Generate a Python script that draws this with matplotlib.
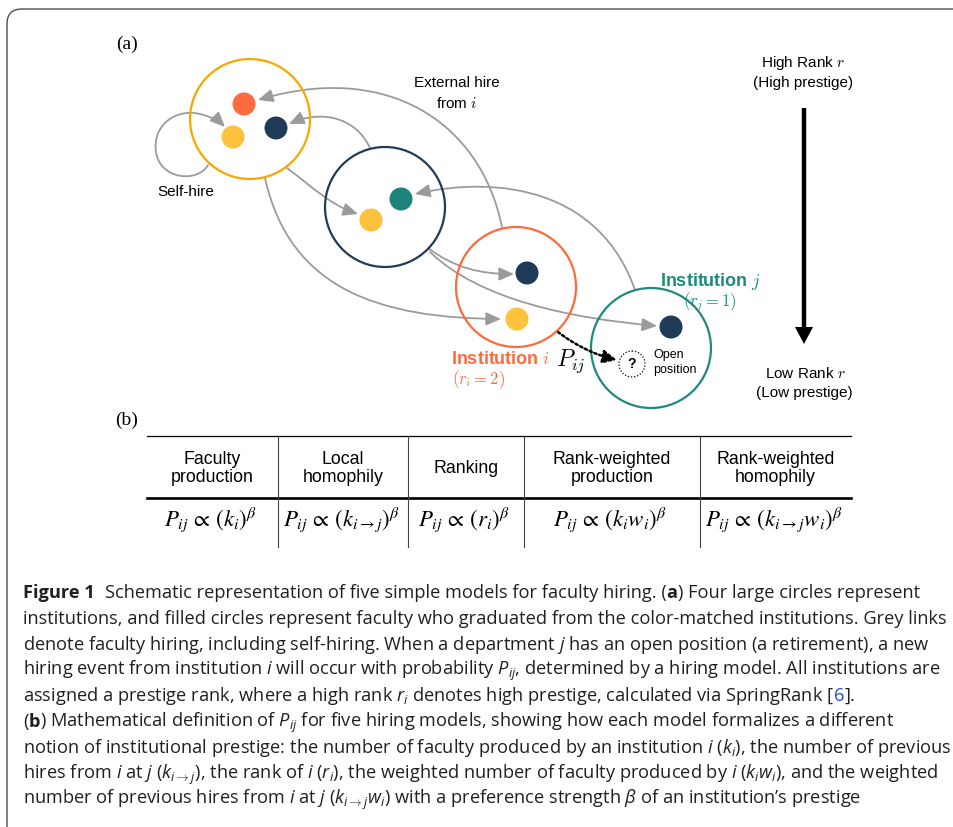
import re
import matplotlib
matplotlib.use("Agg")
import matplotlib.pyplot as plt
from matplotlib import font_manager
from matplotlib.patches import Circle, FancyArrowPatch, PathPatch, Polygon
from matplotlib.path import Path


def has_bold(name):
    regular = bold = False
    for f in font_manager.fontManager.ttflist:
        if f.name == name and f.style == "normal":
            if str(f.weight) in ("700", "bold"):
                bold = True
            elif str(f.weight) in ("400", "normal", "regular", "book"):
                regular = True
    return regular and bold


CAP_FONT = "Liberation Sans"
for cand in ["Liberation Sans Narrow", "Noto Sans", "Open Sans", "Lato", "Roboto"]:
    if has_bold(cand):
        CAP_FONT = cand
        break
SANS = "Liberation Sans"
SERIF = "Liberation Serif"

plt.rcParams["font.family"] = SANS
plt.rcParams["mathtext.fontset"] = "custom"
plt.rcParams["mathtext.rm"] = CAP_FONT
plt.rcParams["mathtext.it"] = CAP_FONT + ":italic"
plt.rcParams["mathtext.bf"] = CAP_FONT + ":bold"

# ---- panel (a): institutions (big rings) ----
inst_x = [250, 385, 516, 651]
inst_y = [119, 207, 287, 348]
inst_col = ["#F6A800", "#1F3B57", "#FF6A3D", "#1E8A7E"]
INST_R = 60

# faculty members (filled dots), coloured by the institution they graduated from
dot_x = [244, 233, 276, 401, 371, 527, 517, 671]
dot_y = [104, 137, 128, 199, 220, 273, 319, 327]
dot_col = ["#FF6B40", "#FFC23F", "#1F3B57", "#1E8479",
           "#FFC23F", "#1F3B57", "#FFC23F", "#1F3B57"]
DOT_R = 11.5

# grey hiring links, cubic bezier control points (start, c1, c2, end, ...)
links = [
    [(208, 165), (198, 183), (160, 180), (156, 152),
     (152, 126), (175, 108), (200, 114),
     (212, 117), (219, 121), (225, 127)],               # self-hire loop
    [(502, 227), (480, 120), (385, 62), (258, 100)],    # external hire from i
    [(370, 148), (355, 116), (320, 110), (289, 124)],
    [(287, 168), (310, 185), (330, 205), (358, 214)],
    [(635, 290), (600, 190), (500, 175), (415, 194)],
    [(265, 178), (290, 290), (380, 318), (501, 319)],
    [(428, 248), (455, 268), (480, 274), (514, 274)],
    [(430, 252), (480, 300), (570, 318), (657, 326)],
]

# ---- panel (b): table ----
col_edges = [147, 278, 408, 524, 700, 851]
headers = [("Faculty", "production"), ("Local", "homophily"), ("Ranking",),
           ("Rank-weighted", "production"), ("Rank-weighted", "homophily")]
formulas = [r"$P_{ij}\,\propto\,(k_i)^{\beta}$",
            r"$P_{ij}\,\propto\,(k_{i\rightarrow j})^{\beta}$",
            r"$P_{ij}\,\propto\,(r_i)^{\beta}$",
            r"$P_{ij}\,\propto\,(k_i w_i)^{\beta}$",
            r"$P_{ij}\,\propto\,(k_{i\rightarrow j} w_i)^{\beta}$"]

# caption lines: **bold**, {{blue reference}}, $math$ for italics
caption = [
    r"**Figure 1**  Schematic representation of five simple models for faculty hiring. (**a**) Four large circles represent",
    "institutions, and filled circles represent faculty who graduated from the color-matched institutions. Grey links",
    r"denote faculty hiring, including self-hiring. When a department $j$ has an open position (a retirement), a new",
    r"hiring event from institution $i$ will occur with probability $P_{ij}$, determined by a hiring model. All institutions are",
    r"assigned a prestige rank, where a high rank $r_i$ denotes high prestige, calculated via SpringRank [{{6}}].",
    r"(**b**) Mathematical definition of $P_{ij}$ for five hiring models, showing how each model formalizes a different",
    r"notion of institutional prestige: the number of faculty produced by an institution $i$ ($k_i$), the number of previous",
    r"hires from $i$ at $j$ ($k_{i\rightarrow j}$), the rank of $i$ ($r_i$), the weighted number of faculty produced by $i$ ($k_i w_i$), and the weighted",
    r"number of previous hires from $i$ at $j$ ($k_{i\rightarrow j} w_i$) with a preference strength $\beta$ of an institution’s prestige",
]

fig = plt.figure(figsize=(9.54, 8.27), dpi=100)
ax = fig.add_axes([0, 0, 1, 1])
ax.set_xlim(0, 954)
ax.set_ylim(827, 0)
ax.axis("off")

# frame (top + left edge with rounded corner)
frame = Path([(7, 827), (7, 24), (7, 9), (22, 9), (954, 9)],
             [Path.MOVETO, Path.LINETO, Path.CURVE3, Path.CURVE3, Path.LINETO])
ax.add_patch(PathPatch(frame, fill=False, ec="#4d4d4d", lw=1.0, clip_on=False))

ax.text(127, 44, "(a)", family=SERIF, fontsize=14, ha="center", va="center")
ax.text(127, 420, "(b)", family=SERIF, fontsize=14, ha="center", va="center")

# grey links
for pts in links:
    codes = [Path.MOVETO] + [Path.CURVE4] * (len(pts) - 1)
    ax.add_patch(FancyArrowPatch(path=Path(pts, codes),
                                 arrowstyle="-|>,head_length=0.75,head_width=0.33",
                                 mutation_scale=12, lw=1.3, color="#9B9B9B", zorder=2))

for x, y, c in zip(inst_x, inst_y, inst_col):
    ax.add_patch(Circle((x, y), INST_R, fill=False, ec=c, lw=1.6, zorder=3))
for x, y, c in zip(dot_x, dot_y, dot_col):
    ax.add_patch(Circle((x, y), DOT_R, fc=c, ec="none", zorder=4))

# open position and the P_ij dotted arrow
ax.add_patch(Circle((632, 364), 13, fill=False, ec="black", lw=0.9, ls=(0, (1, 1.5)), zorder=4))
ax.text(632, 364, "?", fontsize=10, fontweight="bold", ha="center", va="center")
ax.text(653, 355, "Open", fontsize=9, ha="left", va="center")
ax.text(653, 370, "position", fontsize=9, ha="left", va="center")
ax.add_patch(FancyArrowPatch(path=Path([(558, 332), (575, 345), (595, 355), (617, 360)],
                                       [Path.MOVETO] + [Path.CURVE4] * 3),
                             arrowstyle="-|>,head_length=0.7,head_width=0.33",
                             mutation_scale=12, lw=1.8, ls=(0, (1, 1.1)), color="black", zorder=5))
ax.text(571, 361, r"$P_{ij}$", fontsize=17, math_fontfamily="cm", ha="center", va="center")

# labels
ax.text(457, 83, "External hire", fontsize=11, ha="center", va="center")
ax.text(457, 103, r"from $i$", fontsize=11, ha="center", va="center", math_fontfamily="cm")
ax.text(186, 192, "Self-hire", fontsize=11, ha="center", va="center")
ax.text(711, 282, r"Institution $j$", fontsize=13, fontweight="bold", color=inst_col[3],
        ha="center", va="center", math_fontfamily="cm")
ax.text(710, 302, r"$(r_j = 1)$", fontsize=12, color=inst_col[3], ha="center", va="center",
        math_fontfamily="cm")
ax.text(501, 360, r"Institution $i$", fontsize=13, fontweight="bold", color=inst_col[2],
        ha="center", va="center", math_fontfamily="cm")
ax.text(479, 380, r"$(r_i = 2)$", fontsize=12, color=inst_col[2], ha="center", va="center",
        math_fontfamily="cm")

# rank arrow
ax.text(803, 63, r"High Rank $r$", fontsize=11, ha="center", va="center", math_fontfamily="cm")
ax.text(803, 83, "(High prestige)", fontsize=11, ha="center", va="center")
ax.plot([804, 804], [108, 330], color="black", lw=3.2, solid_capstyle="butt")
ax.add_patch(Polygon([(795, 327), (813, 327), (804, 344)], closed=True, fc="black", ec="none"))
ax.text(805, 374, r"Low Rank $r$", fontsize=11, ha="center", va="center", math_fontfamily="cm")
ax.text(804, 393, "(Low prestige)", fontsize=11, ha="center", va="center")

# ---- table ----
ax.plot([col_edges[0], col_edges[-1]], [436, 436], color="black", lw=0.9)
ax.plot([col_edges[0], col_edges[-1]], [498, 498], color="black", lw=1.9)
for xe in col_edges[1:-1]:
    ax.plot([xe, xe], [436, 547], color="#444444", lw=0.8)
for k, head in enumerate(headers):
    xc = (col_edges[k] + col_edges[k + 1]) / 2
    if len(head) == 1:
        ax.text(xc, 473, head[0], fontsize=12.8, ha="center", va="baseline")
    else:
        ax.text(xc, 464, head[0], fontsize=12.8, ha="center", va="baseline")
        ax.text(xc, 482, head[1], fontsize=12.8, ha="center", va="baseline")
    ax.text(xc - 2, 526, formulas[k], fontsize=16.5, ha="center", va="baseline",
            math_fontfamily="stix")

# ---- caption ----
CAP_COLOR = "#231F20"
LINK_COLOR = "#2A4BD7"
CAP_X, CAP_Y0, CAP_DY = 23, 598, 25.8
r = fig.canvas.get_renderer()

# pick the font size so that the full-width line spans the box as in the figure
probe = ax.text(0, 0, caption[6], fontsize=12, family=CAP_FONT)
cap_size = 12 * 926 / probe.get_window_extent(r).width
probe.remove()

probe = ax.text(0, 0, "a a", fontsize=cap_size, family=CAP_FONT)
w2 = probe.get_window_extent(r).width
probe.remove()
probe = ax.text(0, 0, "aa", fontsize=cap_size, family=CAP_FONT)
space_w = w2 - probe.get_window_extent(r).width
probe.remove()

for k, line in enumerate(caption):
    y = CAP_Y0 + CAP_DY * k
    x = CAP_X
    for tok in re.split(r"(\*\*[^*]+\*\*|\{\{[^}]+\}\})", line):
        if not tok:
            continue
        weight, color = "normal", CAP_COLOR
        if tok.startswith("**"):
            tok, weight = tok[2:-2], "bold"
        elif tok.startswith("{{"):
            tok, color = tok[2:-2], LINK_COLOR
        lead = len(tok) - len(tok.lstrip(" "))
        trail = len(tok) - len(tok.rstrip(" "))
        body = tok.strip(" ")
        x += lead * space_w
        if body:
            t = ax.text(x, y, body, fontsize=cap_size, family=CAP_FONT, fontweight=weight,
                        color=color, ha="left", va="baseline")
            x = t.get_window_extent(r).x1 + 0.3
        x += trail * space_w

fig.savefig("out.png", dpi=100)
